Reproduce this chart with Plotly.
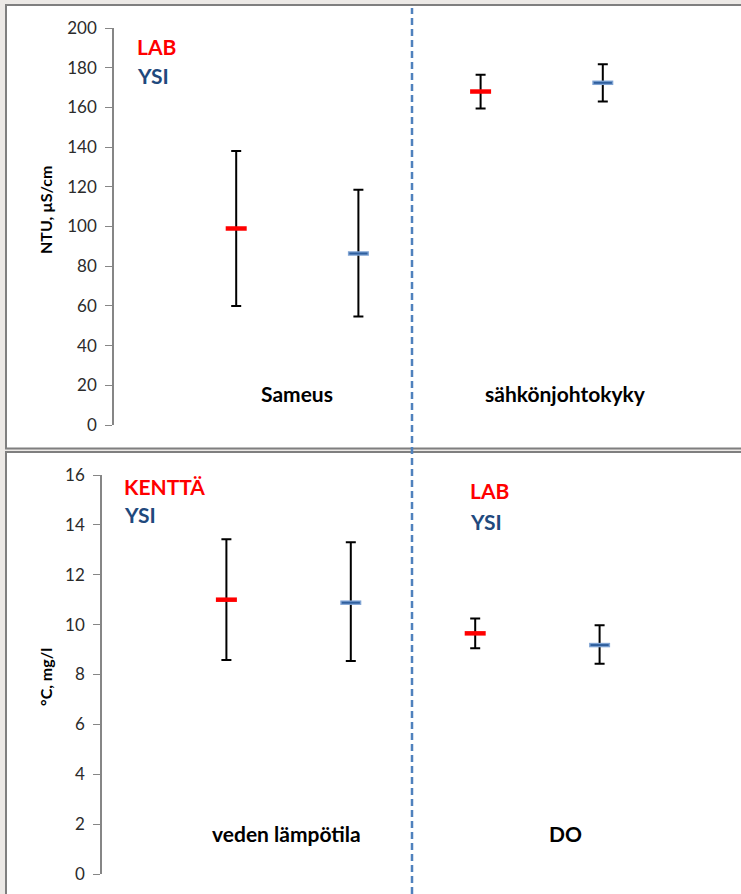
import plotly.graph_objects as go

W, H = 741, 894

# ---------------- data ----------------
top_categories = ["Sameus", "sähkönjohtokyky"]
top_lab_mean = [99.0, 168.0]
top_lab_low = [60.0, 159.4]
top_lab_high = [138.0, 176.4]
top_ysi_mean = [86.4, 172.4]
top_ysi_low = [54.7, 163.0]
top_ysi_high = [118.5, 181.8]

bot_categories = ["veden lämpötila", "DO"]
bot_lab_mean = [11.0, 9.65]
bot_lab_low = [8.58, 9.05]
bot_lab_high = [13.42, 10.25]
bot_ysi_mean = [10.88, 9.18]
bot_ysi_low = [8.54, 8.43]
bot_ysi_high = [13.3, 9.97]

top_ticks = list(range(0, 201, 20))
bot_ticks = list(range(0, 17, 2))

FONT = "Lato, 'Open Sans', sans-serif"
RED = "#FF0000"
BLUE_TXT = "#1F497D"
GREY = "#868686"


def px(x):
    return x / W


def py(y):
    return 1 - y / H


fig = go.Figure()


def add_pair(means, lows, highs, offset, color, xa, ya, halo=None):
    xs = [2 * i + offset for i in range(len(means))]
    err_p = [h - m for h, m in zip(highs, means)]
    err_m = [m - l for m, l in zip(means, lows)]
    fig.add_trace(go.Scatter(
        x=xs, y=means, mode="markers", xaxis=xa, yaxis=ya, showlegend=False,
        error_y=dict(type="data", symmetric=False, array=err_p, arrayminus=err_m,
                     color="black", thickness=2, width=5),
        marker=dict(symbol="line-ew", size=15, color=color,
                    line=dict(color=color, width=4.5)),
        hoverinfo="skip"))
    if halo:
        fig.add_trace(go.Scatter(
            x=xs, y=means, mode="markers", xaxis=xa, yaxis=ya, showlegend=False,
            marker=dict(symbol="line-ew", size=13, color=halo,
                        line=dict(color=halo, width=2)),
            hoverinfo="skip"))


add_pair(top_lab_mean, top_lab_low, top_lab_high, 1, RED, "x", "y")
add_pair(top_ysi_mean, top_ysi_low, top_ysi_high, 2, "#7FA3D3", "x", "y", halo="#2F5F9E")
add_pair(bot_lab_mean, bot_lab_low, bot_lab_high, 1, RED, "x2", "y2")
add_pair(bot_ysi_mean, bot_ysi_low, bot_ysi_high, 2, "#7FA3D3", "x2", "y2", halo="#2F5F9E")

yaxis_common = dict(showline=True, linecolor=GREY, linewidth=1.5, ticks="outside",
                    ticklen=7, tickcolor=GREY, tickwidth=1.2, showgrid=False,
                    zeroline=False, tickfont=dict(family=FONT, size=17, color="#2b2b2b"),
                    ticklabelstandoff=5, fixedrange=True, automargin=False)

fig.update_layout(
    width=W, height=H, margin=dict(l=0, r=0, t=0, b=0, autoexpand=False),
    paper_bgcolor="#ECE9E6", plot_bgcolor="rgba(0,0,0,0)",
    xaxis=dict(domain=[px(114), px(725)], range=[0, 5], visible=False, anchor="y",
               automargin=False),
    yaxis=dict(domain=[py(425), py(28)], range=[0, 200], tickvals=top_ticks,
               anchor="x", **yaxis_common),
    xaxis2=dict(domain=[px(102), px(724)], range=[0, 5], visible=False, anchor="y2",
                automargin=False),
    yaxis2=dict(domain=[py(874), py(475)], range=[0, 16], tickvals=bot_ticks,
                anchor="x2", **yaxis_common),
)

shapes = [
    # panel backgrounds / borders
    dict(type="rect", xref="paper", yref="paper", x0=px(6), x1=px(760), y0=py(448.5), y1=py(5),
         fillcolor="white", line=dict(color="#7F7F7F", width=2), layer="below"),
    dict(type="rect", xref="paper", yref="paper", x0=px(6), x1=px(760), y0=py(920), y1=py(452),
         fillcolor="white", line=dict(color="#7F7F7F", width=2), layer="below"),
    # dashed divider
    dict(type="line", xref="paper", yref="paper", x0=px(412), x1=px(412), y0=py(894), y1=py(8),
         line=dict(color="#4F81BD", width=2.5, dash="7px,4px"), layer="above"),
]
fig.update_layout(shapes=shapes)

ann = []


def text(x, y, s, color="black", size=16, anchor="center", angle=0):
    ann.append(dict(x=px(x), y=py(y), xref="paper", yref="paper", text=f"<b>{s}</b>",
                    showarrow=False, xanchor=anchor, yanchor="middle", textangle=angle,
                    font=dict(family=FONT, size=size, color=color)))


# category labels
text(297, 393, top_categories[0], size=21)
text(565, 393, top_categories[1], size=21)
text(286, 833, bot_categories[0], size=21)
text(565, 833, bot_categories[1], size=21)

# series labels
text(135, 46, "LAB", RED, 21, "left")
text(135, 75, "YSI", BLUE_TXT, 21, "left")
text(122, 486, "KENTTÄ", RED, 21, "left")
text(122, 514, "YSI", BLUE_TXT, 21, "left")
text(468, 491, "LAB", RED, 21, "left")
text(468, 521, "YSI", BLUE_TXT, 21, "left")

# axis titles
text(45, 210, "NTU, µS/cm", "black", 16, "center", -90)
text(45, 677, "°C, mg/l", "black", 16, "center", -90)

fig.update_layout(annotations=ann)

fig.write_html("out.html")
